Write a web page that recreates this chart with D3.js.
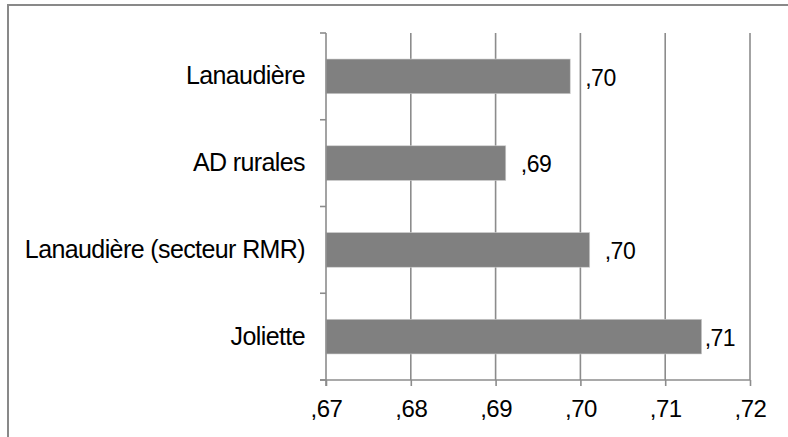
<!DOCTYPE html>
<html>
<head>
<meta charset="utf-8">
<script src="https://cdn.jsdelivr.net/npm/d3@7"></script>
<style>
    body { margin: 0; background: #fff; }
    text { font-family: "Liberation Sans", Arial, sans-serif; fill: #000; }
</style>
</head>
<body>
<div class="chart"></div>
<script>
var categories = ["Lanaudière", "AD rurales", "Lanaudière (secteur RMR)", "Joliette"];
var values = [0.6988, 0.6912, 0.7011, 0.7143];
var tickvalues = [0.67, 0.68, 0.69, 0.70, 0.71, 0.72];

var width = 788;
var height = 437;
var rect = { top: 33, right: 38, bottom: 57, left: 326 };
var w = width - rect.left - rect.right;
var h = height - rect.top - rect.bottom;

var fmt = function (v) {
    return d3.format(".2f")(v).replace("0.", ",");
};

var svg = d3.select(".chart")
    .append("svg")
    .attr("width", width)
    .attr("height", height);

// outer frame (right and bottom edges fall outside the picture)
svg.append("rect")
    .attr("x", 8)
    .attr("y", 5)
    .attr("width", 800)
    .attr("height", 440)
    .attr("fill", "none")
    .attr("stroke", "#898989")
    .attr("stroke-width", 2);

var g = svg.append("g")
    .attr("transform", "translate(" + rect.left + "," + rect.top + ")");

var x = d3.scaleLinear().domain([0.67, 0.72]).range([0, w]);
var y = d3.scaleBand().domain(categories).range([0, h])
    .paddingInner(0.6)
    .paddingOuter(0.3);

// vertical gridlines
g.selectAll(".grid")
    .data(tickvalues.slice(1))
    .enter()
    .append("line")
    .attr("class", "grid")
    .attr("x1", function (d) { return x(d); })
    .attr("x2", function (d) { return x(d); })
    .attr("y1", 0)
    .attr("y2", h)
    .attr("stroke", "#8c8c8c")
    .attr("stroke-width", 1.6);

// bars
g.selectAll(".bar")
    .data(values)
    .enter()
    .append("rect")
    .attr("class", "bar")
    .attr("x", 0)
    .attr("y", function (d, i) { return y(categories[i]); })
    .attr("width", function (d) { return x(d); })
    .attr("height", y.bandwidth())
    .attr("fill", "#808080")
    .attr("stroke", "#d0d0d0")
    .attr("stroke-width", 0.6);

// value labels
g.selectAll(".val")
    .data(values)
    .enter()
    .append("text")
    .attr("class", "val")
    .attr("x", function (d) { return x(d) + (d > 0.71 ? 3 : 15); })
    .attr("y", function (d, i) { return y(categories[i]) + y.bandwidth() / 2; })
    .attr("dy", "0.4em")
    .style("font-size", "23px")
    .style("letter-spacing", "-0.5px")
    .text(function (d) { return fmt(d); });

// x axis
var bottomtick = d3.axisBottom(x)
    .tickValues(tickvalues)
    .tickFormat(fmt)
    .tickSize(6)
    .tickPadding(14)
    .tickSizeOuter(0);
var xa = g.append("g")
    .attr("transform", "translate(0," + h + ")")
    .call(bottomtick);
xa.select(".domain").remove();
xa.append("line")
    .attr("x1", -6).attr("x2", w)
    .attr("stroke", "#8c8c8c").attr("stroke-width", 1.6);
xa.selectAll(".tick line").attr("stroke", "#8c8c8c").attr("stroke-width", 1.6);
xa.selectAll(".tick text")
    .style("font-size", "24px")
    .style("letter-spacing", "-0.5px")
    .attr("fill", "#000");

// y axis
var lefttick = d3.axisLeft(y)
    .tickSize(0)
    .tickPadding(21);
var ya = g.append("g").call(lefttick);
ya.select(".domain").remove();
ya.append("line")
    .attr("y1", 0).attr("y2", h + 6)
    .attr("stroke", "#8c8c8c").attr("stroke-width", 1.6);
ya.selectAll(".tick text")
    .style("font-size", "25px")
    .style("letter-spacing", "-0.6px")
    .attr("fill", "#000");

// category boundary ticks
ya.selectAll(".sep")
    .data(d3.range(categories.length + 1))
    .enter()
    .append("line")
    .attr("class", "sep")
    .attr("x1", -6).attr("x2", 0)
    .attr("y1", function (d) { return d * y.step(); })
    .attr("y2", function (d) { return d * y.step(); })
    .attr("stroke", "#8c8c8c")
    .attr("stroke-width", 1.6);
</script>
</body>
</html>
